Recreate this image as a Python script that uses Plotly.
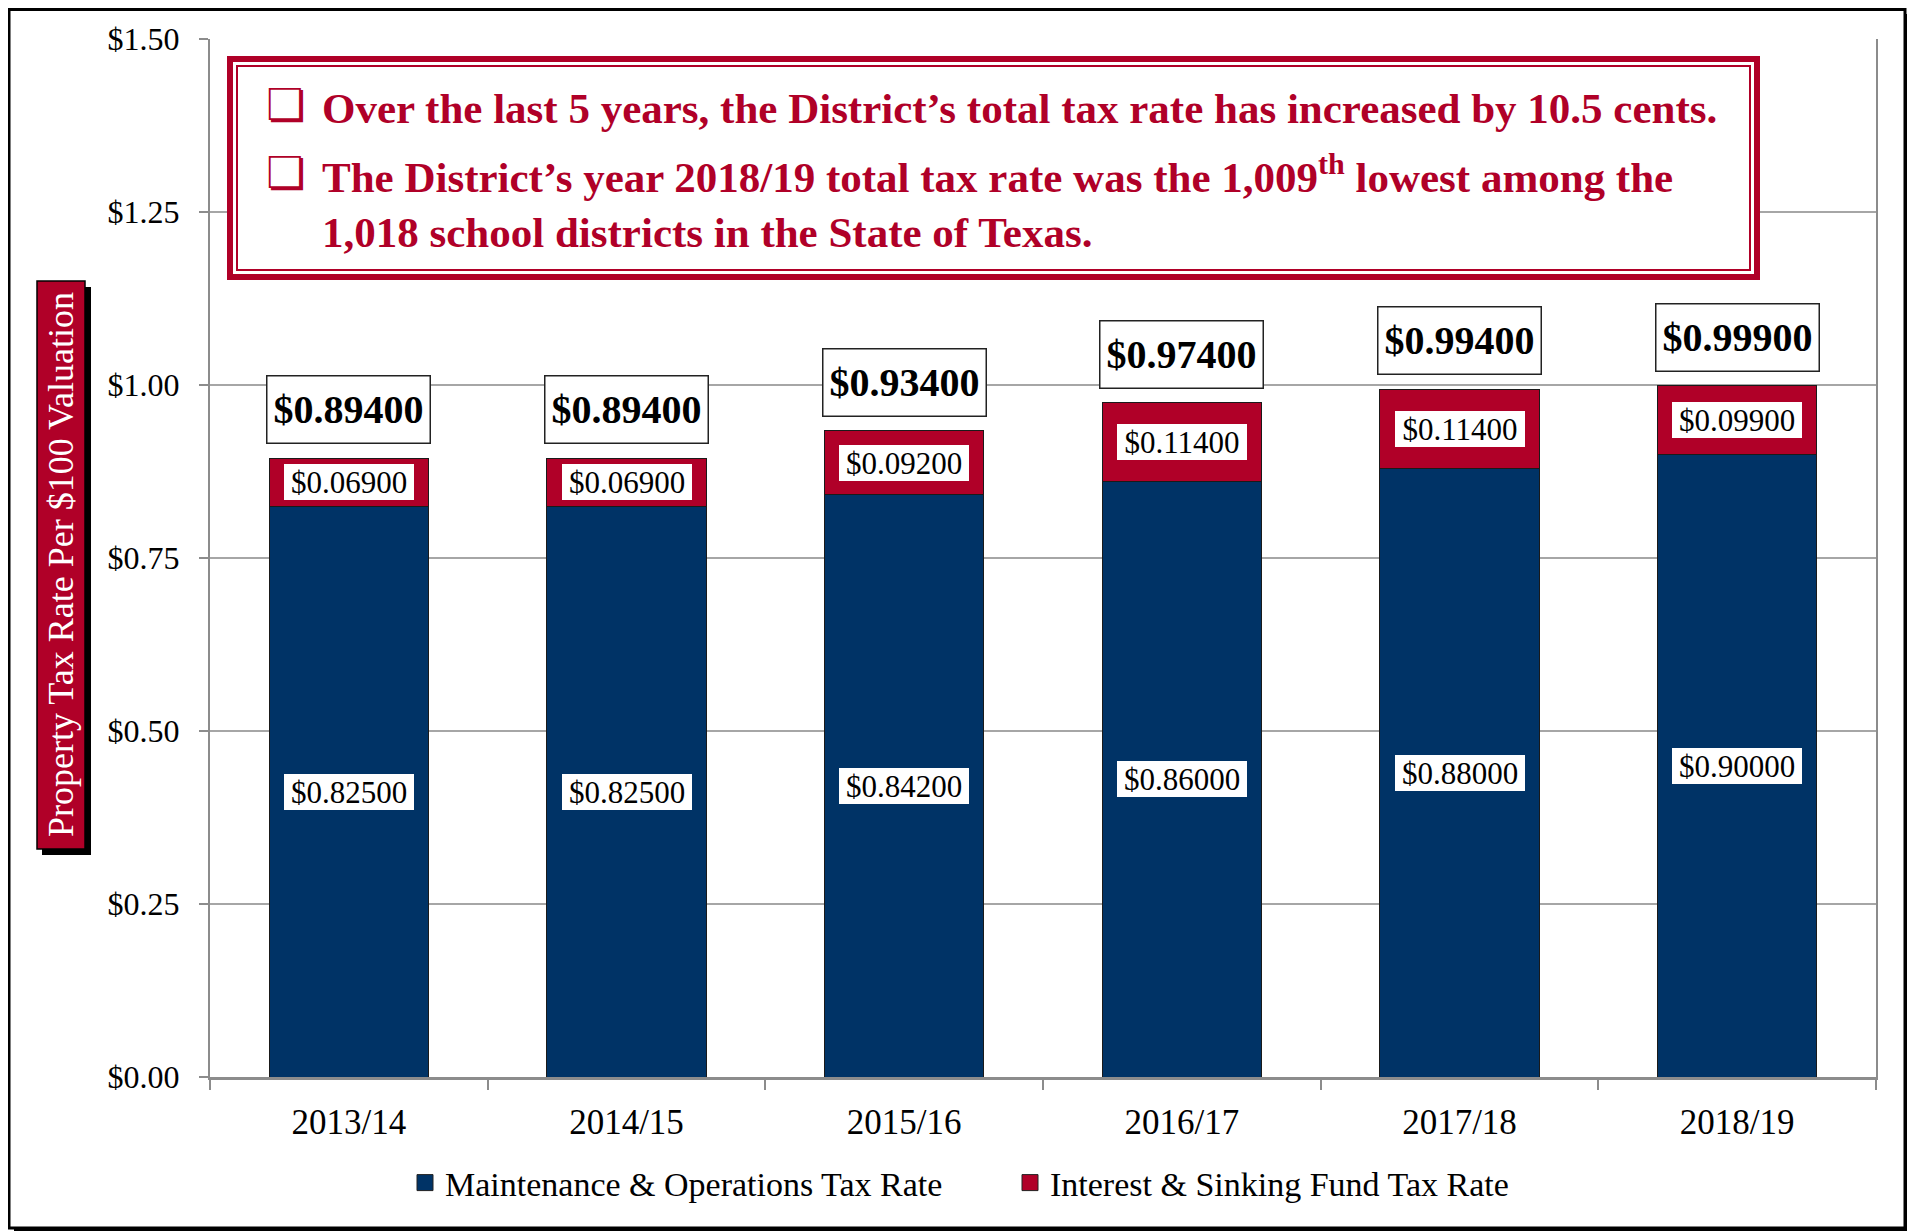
import plotly.graph_objects as go

years = ['2013/14', '2014/15', '2015/16', '2016/17', '2017/18', '2018/19']
mo_rate = [0.825, 0.825, 0.842, 0.860, 0.880, 0.900]
is_rate = [0.069, 0.069, 0.092, 0.114, 0.114, 0.099]
totals = [round(a + b, 3) for a, b in zip(mo_rate, is_rate)]

NAVY = '#003366'
RED = '#B00028'
SERIF = 'Liberation Serif, Times New Roman, serif'

# page is 1915x1232, the body margin puts the figure at (8, 8)
OFF = 8
W, H = 1915 - OFF, 1232 - OFF
# plot area in page pixels
L, R, T, B = 210, 1876, 39, 1077

def px(x):
    return (x - L) / (R - L)

def py(y):
    return (B - y) / (B - T)

fig = go.Figure()
fig.add_trace(go.Bar(x=years, y=mo_rate, name='Maintenance & Operations Tax Rate', showlegend=False,
                     marker=dict(color=NAVY, line=dict(color='#1a1a1a', width=1))))
fig.add_trace(go.Bar(x=years, y=is_rate, name='Interest & Sinking Fund Tax Rate', showlegend=False,
                     marker=dict(color=RED, line=dict(color='#1a1a1a', width=1))))
# legend entries with bigger square swatches
for nm, col in [('Maintenance & Operations Tax Rate', NAVY), ('Interest & Sinking Fund Tax Rate', RED)]:
    fig.add_trace(go.Scatter(x=[None], y=[None], mode='markers', name=nm,
                             marker=dict(symbol='square', size=17, color=col,
                                         line=dict(color='#222', width=1))))

# value boxes
for yr, m, i, t in zip(years, mo_rate, is_rate, totals):
    fig.add_annotation(x=yr, y=m / 2, text=f'${m:.5f}', showarrow=False,
                       font=dict(family=SERIF, size=31, color='black'),
                       bgcolor='white', width=126, height=32, borderpad=2, borderwidth=0)
    fig.add_annotation(x=yr, y=m + i / 2, text=f'${i:.5f}', showarrow=False,
                       font=dict(family=SERIF, size=31, color='black'),
                       bgcolor='white', width=126, height=32, borderpad=2, borderwidth=0)
    fig.add_annotation(x=yr, y=t, yanchor='bottom', yshift=14, text=f'<b>${t:.5f}</b>',
                       showarrow=False, font=dict(family=SERIF, size=40, color='black'),
                       bgcolor='white', bordercolor='#222', borderwidth=1.5,
                       width=156, height=60, borderpad=3)

shapes = [
    # outer frame with shadow
    dict(type='rect', xref='paper', yref='paper', x0=px(1905), x1=px(1913), y0=py(1231), y1=py(14),
         fillcolor='black', line=dict(width=0)),
    dict(type='rect', xref='paper', yref='paper', x0=px(14), x1=px(1913), y0=py(1231), y1=py(1227),
         fillcolor='black', line=dict(width=0)),
    dict(type='rect', xref='paper', yref='paper', x0=px(9), x1=px(1905), y0=py(1228), y1=py(9.5),
         line=dict(color='black', width=3)),
    # y-axis title box
    dict(type='rect', xref='paper', yref='paper', x0=px(42), x1=px(91), y0=py(855), y1=py(287),
         fillcolor='black', line=dict(width=0)),
    dict(type='rect', xref='paper', yref='paper', x0=px(37), x1=px(85), y0=py(849), y1=py(281),
         fillcolor=RED, line=dict(color='black', width=1.5)),
    # callout box, double border
    dict(type='rect', xref='paper', yref='paper', x0=px(230), x1=px(1757), y0=py(277), y1=py(59),
         fillcolor='white', line=dict(color=RED, width=6)),
    dict(type='rect', xref='paper', yref='paper', x0=px(237), x1=px(1750), y0=py(270), y1=py(66),
         line=dict(color=RED, width=2)),
]
fig.update_layout(shapes=shapes)

fig.add_annotation(xref='paper', yref='paper', x=px(61), y=py(565), xanchor='center', yanchor='middle',
                   textangle=-90, text='Property Tax Rate Per $100 Valuation', showarrow=False,
                   font=dict(family=SERIF, size=36, color='white'))

lines = [
    (108, 'Over the last 5 years, the District\u2019s total tax rate has increased by 10.5 cents.', 101),
    (174, 'The District\u2019s year 2018/19 total tax rate was the 1,009<sup>th</sup> lowest among the', 170),
    (232, '1,018 school districts in the State of Texas.', None),
]
for yy, txt, by in lines:
    fig.add_annotation(xref='paper', yref='paper', x=px(320), y=py(yy), xanchor='left', yanchor='middle',
                       text=f'<b>{txt}</b>', showarrow=False,
                       font=dict(family=SERIF, size=43, color=RED))
    if by:
        fig.add_annotation(xref='paper', yref='paper', x=px(285), y=py(by + 3), xanchor='center',
                           yanchor='middle', text='\u274f', showarrow=False,
                           font=dict(family='DejaVu Sans', size=44, color=RED))

fig.update_layout(
    width=W, height=H,
    margin=dict(l=L - OFF, r=W - (R - OFF), t=T - OFF, b=H - (B - OFF)),
    paper_bgcolor='white', plot_bgcolor='white',
    barmode='stack', bargap=0.427,
    font=dict(family=SERIF, size=32, color='black'),
    legend=dict(orientation='h', x=px(1010), xanchor='center', y=py(1183), yanchor='middle',
                font=dict(family=SERIF, size=34), traceorder='normal', entrywidth=560),
    showlegend=True,
)
fig.update_yaxes(range=[0, 1.5], dtick=0.25, tickformat='$.2f', showgrid=True,
                 gridcolor='#A6A6A6', gridwidth=1.5, showline=True, linecolor='#8C8C8C',
                 linewidth=2, mirror=True, ticks='outside', ticklen=9, tickcolor='#8C8C8C',
                 tickwidth=2, ticklabelstandoff=13, zeroline=False)
fig.update_xaxes(showgrid=False, showline=True, linecolor='#8C8C8C', linewidth=3,
                 ticks='outside', tickson='boundaries', ticklen=10, tickcolor='#8C8C8C',
                 tickwidth=2, ticklabelstandoff=12, tickfont=dict(size=35))

fig.write_html('out.html')
